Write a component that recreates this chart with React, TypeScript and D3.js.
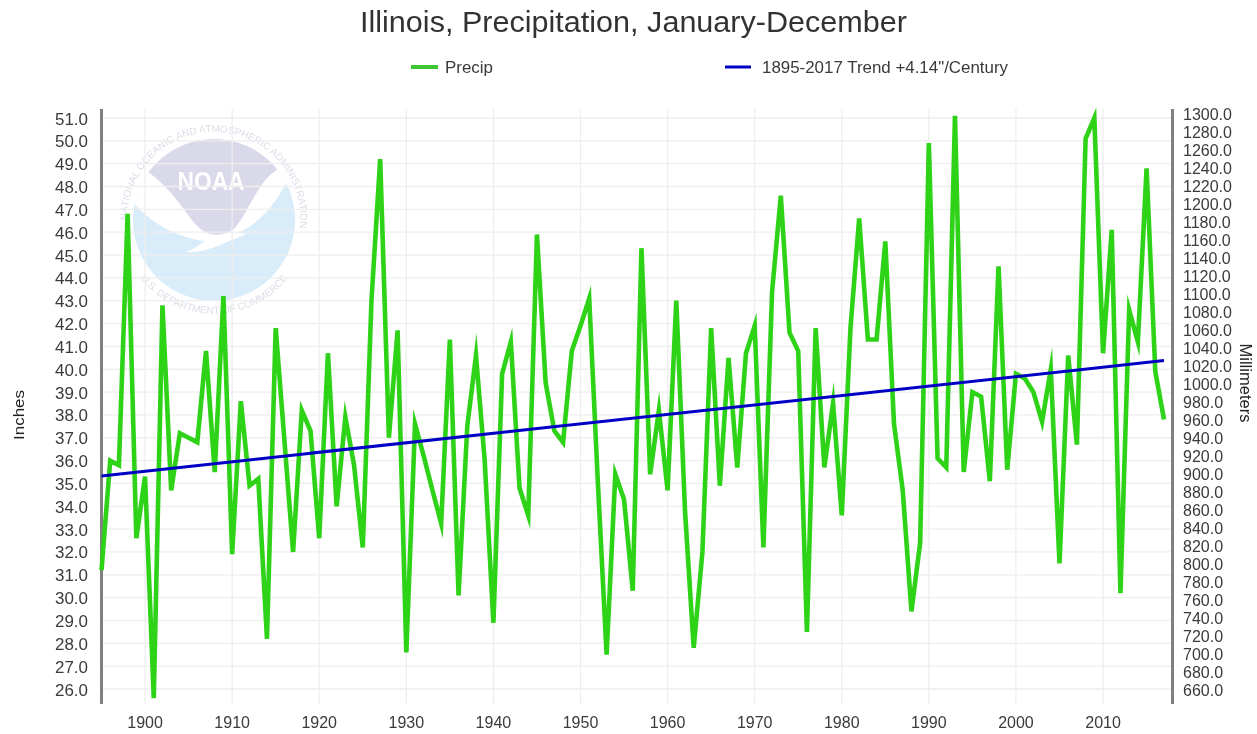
import React from "react";
import * as d3 from "d3";

const W = 1257;
const H = 734;

const startYear = 1895;
const precip = [
  31.2, 36.0, 35.8, 46.8, 32.6, 35.3, 25.6, 42.8, 34.7, 37.2,
  37.0, 36.8, 40.8, 35.5, 43.2, 31.9, 38.6, 34.9, 35.2, 28.2,
  41.8, 36.9, 32.0, 38.2, 37.3, 32.6, 40.7, 34.0, 37.9, 35.8,
  32.2, 43.0, 49.2, 37.0, 41.7, 27.6, 37.6, 36.2, 34.7, 33.25,
  41.3, 30.1, 37.5, 40.6, 36.0, 28.9, 39.8, 41.2, 34.8, 33.6,
  45.9, 39.4, 37.3, 36.8, 40.8, 41.9, 43.1, 35.0, 27.5, 35.4,
  34.3, 30.3, 45.3, 35.4, 38.2, 34.7, 43.0, 33.8, 27.8, 32.0,
  41.8, 34.9, 40.5, 35.7, 40.7, 41.9, 32.2, 43.4, 47.6, 41.6,
  40.8, 28.5, 41.8, 35.7, 38.5, 33.6, 41.8, 46.6, 41.3, 41.3,
  45.6, 37.6, 34.7, 29.4, 32.4, 49.9, 36.1, 35.7, 51.1, 35.5,
  39.0, 38.8, 35.1, 44.5, 35.6, 39.8, 39.6, 39.0, 37.7, 40.0,
  31.5, 40.6, 36.7, 50.1, 51.0, 40.7, 46.1, 30.2, 42.6, 41.2,
  48.8, 39.9, 37.8,
];
const years = precip.map((_, i) => startYear + i);
const trendYears = [1895, 2017];
const trendValues = [35.33, 40.38];
const xTicks = [1900, 1910, 1920, 1930, 1940, 1950, 1960, 1970, 1980, 1990, 2000, 2010];
const inchTicks = d3.range(26, 52);
const mmTicks = d3.range(660, 1301, 20);

const x = d3.scaleLinear().domain([1895, 2017]).range([101.5, 1164]);
const y = d3.scaleLinear().domain([26, 51]).range([689, 118]);
const yMm = d3.scaleLinear().domain([26 * 25.4, 51 * 25.4]).range([689, 118]);

const plotTop = 109;
const plotBottom = 704;
const leftAxis = 101.5;
const rightAxis = 1172.5;
const font = "'Liberation Sans', Arial, sans-serif";
const textColor = "#3a3a3a";

const line = d3.line<number>().x((_, i) => x(years[i])).y((d) => y(d));
const trendLine = d3.line<number>().x((_, i) => x(trendYears[i])).y((d) => y(d));

function Logo() {
  const ring = "#dcdde8";
  return (
    <g>
      <defs>
        <clipPath id="logoClip"><circle cx={214} cy={220} r={81} /></clipPath>
        <path id="ringTop" d="M 128 230 A 86.5 86.5 0 1 1 298 238" />
        <path id="ringBottom" d="M 130 262 A 94 94 0 0 0 298 262" />
      </defs>
      <circle cx={214} cy={220} r={81} fill="#d8ecf9" />
      <g clipPath="url(#logoClip)">
        <path d="M 128 196 C 150 225, 180 238, 205 241 C 198 246, 192 250, 186 252 C 205 254, 225 242, 247 234 L 238 233 C 258 224, 274 206, 285 185 L 300 170 L 300 130 L 125 130 Z" fill="#fff" />
        <path d="M 148 172 L 160 130 L 270 130 L 277 170 C 258 180, 248 215, 233 230 C 222 236, 212 236, 205 232 C 188 222, 180 195, 148 172 Z" fill="#d9d9ea" />
      </g>
      <text x={211} y={190} textAnchor="middle" fontFamily={font} fontWeight="bold" fontSize={25} fill="#fff" textLength={67} lengthAdjust="spacingAndGlyphs">NOAA</text>
      <text fontFamily={font} fontSize={10} fill={ring}>
        <textPath href="#ringTop" startOffset="50%" textAnchor="middle">NATIONAL OCEANIC AND ATMOSPHERIC ADMINISTRATION</textPath>
      </text>
      <text fontFamily={font} fontSize={10} fill={ring}>
        <textPath href="#ringBottom" startOffset="50%" textAnchor="middle">U.S. DEPARTMENT OF COMMERCE</textPath>
      </text>
    </g>
  );
}

export default function App() {
  return (
    <svg
      width={W}
      height={H}
      viewBox={`0 0 ${W} ${H}`}
      style={{ position: "absolute", left: 0, top: 0, display: "block", background: "#fff" }}
    >
      <defs>
        <filter id="soft" x="0" y="0" width={W} height={H} filterUnits="userSpaceOnUse" primitiveUnits="userSpaceOnUse">
          <feGaussianBlur stdDeviation="0.5" />
        </filter>
      </defs>
      <rect width={W} height={H} fill="#fff" />
      <g filter="url(#soft)">
        <Logo />
        <g stroke="#eeeeee" strokeWidth={1.3}>
          {inchTicks.map((t) => (
            <line key={t} x1={leftAxis} x2={rightAxis} y1={y(t)} y2={y(t)} />
          ))}
          {xTicks.map((t) => (
            <line key={t} x1={x(t)} x2={x(t)} y1={plotTop} y2={plotBottom} />
          ))}
        </g>
        <line x1={leftAxis} x2={leftAxis} y1={plotTop} y2={plotBottom} stroke="#808080" strokeWidth={3} />
        <line x1={rightAxis} x2={rightAxis} y1={plotTop} y2={plotBottom} stroke="#808080" strokeWidth={3} />

        <path d={line(precip) ?? ""} fill="none" stroke="#2ed219" strokeWidth={4.6} strokeLinejoin="miter" strokeMiterlimit={10} />
        <path d={trendLine(trendValues) ?? ""} fill="none" stroke="#0404c4" strokeWidth={3} />

        {inchTicks.map((t) => (
          <text key={t} x={88} y={y(t) + 6.5} textAnchor="end" fontFamily={font} fontSize={16} fill={textColor} textLength={33} lengthAdjust="spacingAndGlyphs">
            {t.toFixed(1)}
          </text>
        ))}
        {mmTicks.map((t) => (
          <text key={t} x={1183} y={yMm(t) + 6.5} fontFamily={font} fontSize={16} fill={textColor}>
            {t.toFixed(1)}
          </text>
        ))}
        {xTicks.map((t) => (
          <text key={t} x={x(t)} y={728} textAnchor="middle" fontFamily={font} fontSize={16} fill={textColor}>
            {t}
          </text>
        ))}

        <text transform="translate(24,415) rotate(-90)" textAnchor="middle" fontFamily={font} fontSize={15} fill="#222" textLength={50} lengthAdjust="spacingAndGlyphs">Inches</text>
        <text transform="translate(1240,383) rotate(90)" textAnchor="middle" fontFamily={font} fontSize={16} fill="#222" textLength={79} lengthAdjust="spacingAndGlyphs">Millimeters</text>

        <text x={633.5} y={32} textAnchor="middle" fontFamily={font} fontSize={29} fill="#333" textLength={547} lengthAdjust="spacingAndGlyphs">
          Illinois, Precipitation, January-December
        </text>

        <line x1={411} x2={438} y1={67} y2={67} stroke="#3cc832" strokeWidth={4} />
        <text x={445} y={73} fontFamily={font} fontSize={16} fill={textColor} textLength={48} lengthAdjust="spacingAndGlyphs">Precip</text>
        <line x1={725} x2={751} y1={67} y2={67} stroke="#0404c4" strokeWidth={3} />
        <text x={762} y={73} fontFamily={font} fontSize={16} fill={textColor} textLength={246} lengthAdjust="spacingAndGlyphs">1895-2017 Trend +4.14"/Century</text>
      </g>
    </svg>
  );
}
